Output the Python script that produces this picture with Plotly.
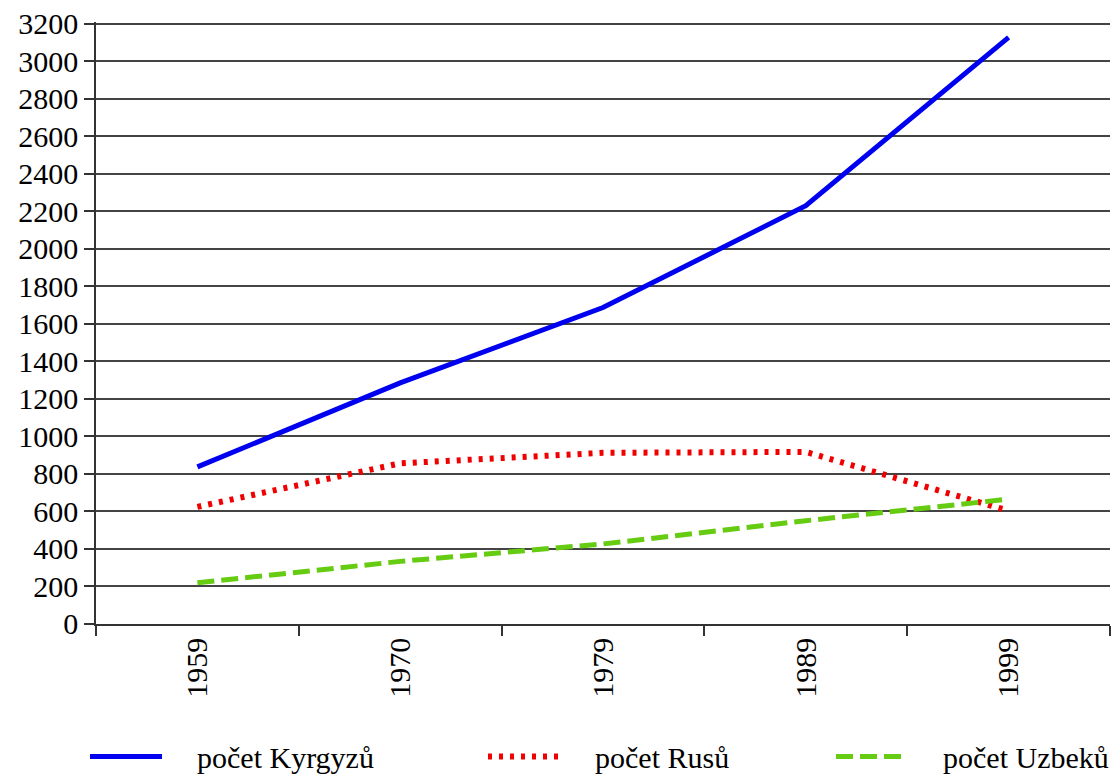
import plotly.graph_objects as go

years = ["1959", "1970", "1979", "1989", "1999"]
kyrgyz = [837, 1285, 1687, 2230, 3128]
rusove = [624, 856, 912, 917, 603]
uzbeks = [219, 333, 426, 550, 665]
y_ticks = list(range(0, 3201, 200))
names = ["počet Kyrgyzů", "počet Rusů", "počet Uzbeků"]

FONT = "Liberation Serif"
PAD = "\u00a0" * 4
FS = 30

fig = go.Figure()
fig.add_trace(go.Scatter(x=years, y=kyrgyz, mode="lines", name=PAD + names[0],
                         legend="legend",
                         line=dict(color="#0000f0", width=5)))
fig.add_trace(go.Scatter(x=years, y=rusove, mode="lines", name=PAD + names[1],
                         legend="legend2",
                         line=dict(color="#f00000", width=6, dash="4px,7px")))
fig.add_trace(go.Scatter(x=years, y=uzbeks, mode="lines", name=PAD + names[2],
                         legend="legend3",
                         line=dict(color="#66cc11", width=5, dash="17px,7px")))

leg_common = dict(orientation="h", yanchor="middle", y=-0.22, xanchor="left",
                  font=dict(family=FONT, size=FS, color="black"),
                  itemwidth=72, bgcolor="rgba(0,0,0,0)")
fig.update_layout(
    width=1112, height=783,
    margin=dict(l=96, r=2, t=22, b=159, autoexpand=False),
    paper_bgcolor="white", plot_bgcolor="white",
    font=dict(family=FONT, size=FS, color="black"),
    showlegend=True,
    legend=dict(x=-11 / 1014, **leg_common),
    legend2=dict(x=387 / 1014, **leg_common),
    legend3=dict(x=735 / 1014, **leg_common),
)
fig.update_xaxes(type="category", range=[-0.5, 4.5], tickson="boundaries",
                 ticks="outside", ticklen=10, tickcolor="#333", tickwidth=1.5,
                 tickangle=-90, showgrid=False, showline=True, linecolor="#333",
                 linewidth=1.5, tickfont=dict(family=FONT, size=FS))
fig.update_yaxes(range=[-1, 3210], tickvals=y_ticks, ticks="outside", ticklen=10,
                 tickcolor="#333", tickwidth=1.5, showgrid=True, gridcolor="#444",
                 gridwidth=1.5, showline=True, linecolor="#333", linewidth=1.5,
                 zeroline=False, tickfont=dict(family=FONT, size=FS))

fig.write_html("out.html", config={"displayModeBar": False},
               post_script="document.body.style.margin='0';")
